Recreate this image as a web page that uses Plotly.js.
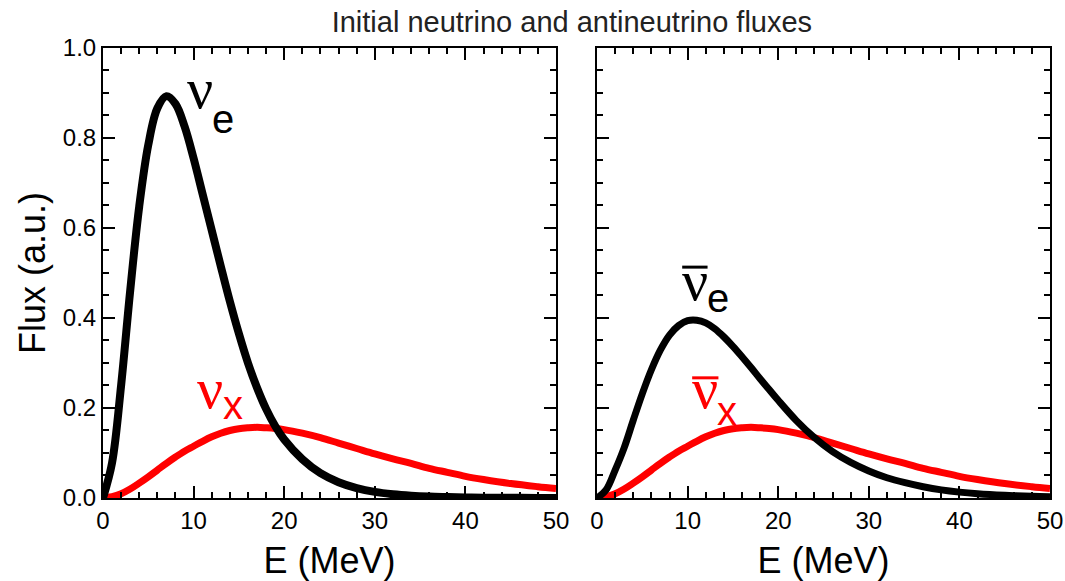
<!DOCTYPE html>
<html>
<head>
<meta charset="utf-8">
<script src="https://cdn.plot.ly/plotly-3.0.1.min.js"></script>
<style>html,body{margin:0;padding:0;background:#fff;}#chart{width:1065px;height:581px;}</style>
</head>
<body>
<div id="chart"></div>
<script>
// Energy grid (MeV)
const energy = [0,1,2,3,4,5,6,7,8,9,10,11,12,13,14,15,16,17,18,19,20,22,24,26,28,30,32,34,36,38,40,42,45,48,50];

// Left panel: neutrinos
const nuE  = [0,0.078,0.25,0.46,0.648,0.785,0.866,0.893,0.876,0.826,0.755,0.675,0.595,0.515,0.437,0.365,0.3,0.245,0.198,0.16,0.13,0.086,0.055,0.035,0.022,0.0135,0.0083,0.005,0.003,0.002,0.0012,0.0007,0.0004,0.0002,0.0001];
const nuX  = [0,0.003,0.0095,0.02,0.033,0.047,0.062,0.077,0.091,0.104,0.115,0.126,0.136,0.144,0.15,0.154,0.156,0.157,0.156,0.1545,0.152,0.144,0.134,0.122,0.11,0.098,0.087,0.077,0.066,0.057,0.048,0.041,0.032,0.025,0.021];

// Right panel: antineutrinos
const antiNuE = [0,0.018,0.062,0.112,0.173,0.232,0.285,0.329,0.362,0.383,0.394,0.395,0.389,0.376,0.358,0.337,0.314,0.29,0.265,0.241,0.217,0.172,0.134,0.103,0.079,0.06,0.045,0.034,0.025,0.018,0.013,0.0095,0.006,0.0036,0.0026];
const antiNuX = [0,0.003,0.0095,0.02,0.033,0.047,0.062,0.077,0.091,0.104,0.115,0.126,0.136,0.144,0.15,0.154,0.156,0.157,0.156,0.1545,0.152,0.144,0.134,0.122,0.11,0.098,0.087,0.077,0.066,0.057,0.048,0.041,0.032,0.025,0.021];

const xTickVals = [0,10,20,30,40,50];
const yTickVals = [0,0.2,0.4,0.6,0.8,1.0];

const titleText = 'Initial neutrino and antineutrino fluxes';
const xTitleText = 'E (MeV)';
const yTitleText = 'Flux (a.u.)';

const RED = '#ff0000';
const BLK = '#000000';

const traces = [
  {x: energy, y: nuX, xaxis:'x', yaxis:'y', mode:'lines', line:{color:RED, width:7, shape:'spline', smoothing:1}, hoverinfo:'skip'},
  {x: energy, y: nuE, xaxis:'x', yaxis:'y', mode:'lines', line:{color:BLK, width:8, shape:'spline', smoothing:1}, hoverinfo:'skip'},
  {x: energy, y: antiNuX, xaxis:'x2', yaxis:'y2', mode:'lines', line:{color:RED, width:7, shape:'spline', smoothing:1}, hoverinfo:'skip'},
  {x: energy, y: antiNuE, xaxis:'x2', yaxis:'y2', mode:'lines', line:{color:BLK, width:7, shape:'spline', smoothing:1}, hoverinfo:'skip'}
];

const tickFont = {family:'Liberation Sans, Arial, sans-serif', size:24, color:'#000'};
const titleFont = {family:'Liberation Sans, Arial, sans-serif', size:36, color:'#000'};

function xAxis(domain, anchor){
  return {
    domain: domain, anchor: anchor, range:[0,50], autorange:false,
    tickvals: xTickVals, ticks:'inside', ticklen:12, tickwidth:2, tickcolor:'#000',
    minor:{dtick:2, ticks:'inside', ticklen:6, tickwidth:2, tickcolor:'#000'},
    showline:true, linewidth:2, linecolor:'#000', mirror:'allticks',
    showgrid:false, zeroline:false, tickfont: tickFont,
    title:{text:xTitleText, font:titleFont, standoff:16}
  };
}
function yAxis(anchor, showLabels){
  const a = {
    domain:[0.1429,0.9174], anchor: anchor, range:[0,1], autorange:false,
    tickvals: yTickVals, tickformat:'.1f', ticks:'inside', ticklen:12, tickwidth:2, tickcolor:'#000',
    minor:{dtick:0.05, ticks:'inside', ticklen:6, tickwidth:2, tickcolor:'#000'},
    showline:true, linewidth:2, linecolor:'#000', mirror:'allticks',
    showgrid:false, zeroline:false, tickfont: tickFont, showticklabels: showLabels
  };
  if (showLabels) a.title = {text:yTitleText, font:titleFont, standoff:6};
  return a;
}

const nuFont = {family:'Liberation Serif, Times New Roman, serif', size:58};
const subFont = {family:'Liberation Sans, Arial, sans-serif', size:40};

function lab(text, x, y, xref, yref, font, color){
  return {text:text, x:x, y:y, xref:xref, yref:yref, showarrow:false, xanchor:'center', yanchor:'middle',
          font:{family:font.family, size:font.size, color:color}};
}

const annotations = [
  lab('ν', 10.73, 0.909, 'x', 'y', nuFont, BLK),
  lab('e', 13.2, 0.842, 'x', 'y', subFont, BLK),
  lab('ν', 11.78, 0.244, 'x', 'y', nuFont, RED),
  lab('x', 14.3, 0.207, 'x', 'y', subFont, RED),
  lab('ν', 10.8, 0.483, 'x2', 'y2', nuFont, BLK),
  lab('e', 13.3, 0.444, 'x2', 'y2', subFont, BLK),
  lab('ν', 11.9, 0.244, 'x2', 'y2', nuFont, RED),
  lab('x', 14.4, 0.193, 'x2', 'y2', subFont, RED)
];

const shapes = [
  {type:'line', xref:'x2', yref:'y2', x0:9.4, x1:12.2, y0:0.513, y1:0.513, line:{color:BLK, width:3}},
  {type:'line', xref:'x2', yref:'y2', x0:10.5, x1:13.4, y0:0.267, y1:0.267, line:{color:RED, width:3}}
];

const layout = {
  width:1065, height:581,
  margin:{l:0, r:0, t:0, b:0},
  paper_bgcolor:'#fff', plot_bgcolor:'#fff',
  showlegend:false,
  title:{text:titleText, x:0.537, xanchor:'center', y:0.962, yanchor:'middle',
         font:{family:'Liberation Sans, Arial, sans-serif', size:29, color:'#222'}},
  xaxis: xAxis([0.0967,0.5221],'y'),
  yaxis: yAxis('x', true),
  xaxis2: xAxis([0.5606,0.9859],'y2'),
  yaxis2: yAxis('x2', false),
  annotations: annotations,
  shapes: shapes
};

Plotly.newPlot('chart', traces, layout, {staticPlot:true, displayModeBar:false});
</script>
</body>
</html>
